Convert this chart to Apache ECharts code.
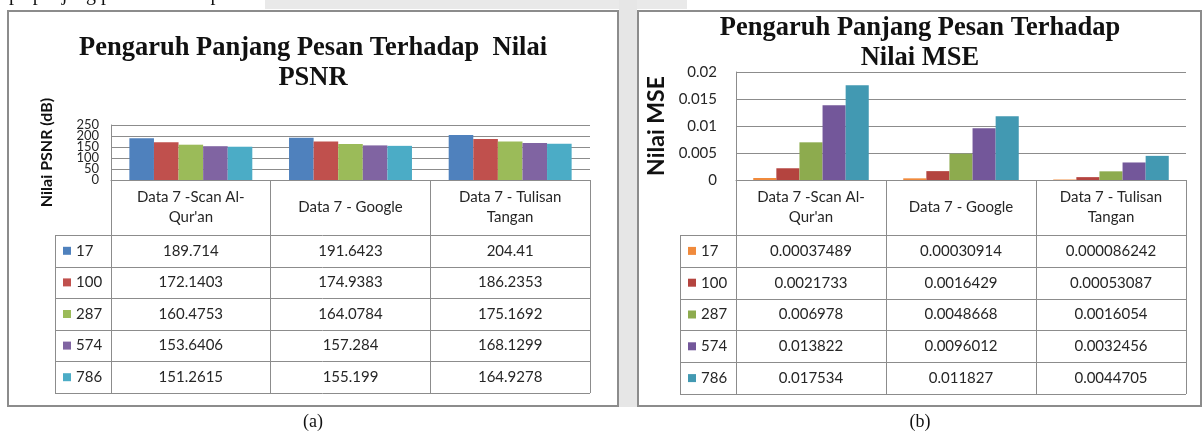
<!DOCTYPE html>
<html>
<head>
<meta charset="utf-8">
<script src="https://cdn.jsdelivr.net/npm/echarts@6/dist/echarts.min.js"></script>
<style>
  html, body { margin: 0; padding: 0; background: #fff; }
  #chart { width: 1203px; height: 437px; }
</style>
</head>
<body>
<div id="chart"></div>
<script>
// categories (table header / x axis)
const categories = ["Data 7 -Scan Al-\nQur'an", 'Data 7 - Google', 'Data 7 - Tulisan\nTangan']
// message lengths (series names)
const seriesNames = ['17', '100', '287', '574', '786']

// PSNR (dB)
const psnr17 = [189.714, 191.6423, 204.41]
const psnr100 = [172.1403, 174.9383, 186.2353]
const psnr287 = [160.4753, 164.0784, 175.1692]
const psnr574 = [153.6406, 157.284, 168.1299]
const psnr786 = [151.2615, 155.199, 164.9278]

// MSE
const mse17 = [0.00037489, 0.00030914, 0.000086242]
const mse100 = [0.0021733, 0.0016429, 0.00053087]
const mse287 = [0.006978, 0.0048668, 0.0016054]
const mse574 = [0.013822, 0.0096012, 0.0032456]
const mse786 = [0.017534, 0.011827, 0.0044705]

// y axis ticks
const psnrTicks = [0, 50, 100, 150, 200, 250]
const mseTicks = [0, 0.005, 0.01, 0.015, 0.02]

const psnrData = [psnr17, psnr100, psnr287, psnr574, psnr786]
const mseData = [mse17, mse100, mse287, mse574, mse786]

const psnrColors = ['#4f81bd', '#c0504d', '#9bbb59', '#8064a2', '#4bacc6']
const mseColors = ['#f08a3c', '#b4443f', '#8dab4e', '#73579a', '#4299b2']

const lineColor = '#8c8c8c'
const textColor = '#262626'
const sansFont = 'Lato'
const serifFont = 'Liberation Serif'

// layout of the two panels
const left = { plotL: 111, plotR: 590, top: 125, axisY: 180, labelL: 55, rowTop: 235, rowH: 31.6 }
const right = { plotL: 736, plotR: 1186, top: 72, axisY: 180, labelL: 680, rowTop: 235, rowH: 31.8 }

function tableGraphics(p, data, colors) {
  const out = []
  const bottom = p.rowTop + p.rowH * seriesNames.length
  const colW = (p.plotR - p.plotL) / categories.length
  for (let i = 0; i <= seriesNames.length; i++) {
    const y = Math.round(p.rowTop + i * p.rowH) + 0.5
    out.push({ type: 'line', shape: { x1: p.labelL, y1: y, x2: p.plotR, y2: y }, style: { stroke: lineColor, lineWidth: 1 } })
  }
  out.push({ type: 'line', shape: { x1: p.labelL + 0.5, y1: p.rowTop, x2: p.labelL + 0.5, y2: bottom }, style: { stroke: lineColor, lineWidth: 1 } })
  seriesNames.forEach((name, i) => {
    const cy = p.rowTop + (i + 0.5) * p.rowH
    out.push({ type: 'rect', shape: { x: p.labelL + 8, y: cy - 4, width: 8, height: 8 }, style: { fill: colors[i] } })
    out.push({
      type: 'text', x: p.labelL + 21, y: cy,
      style: { text: name, fontFamily: sansFont, fontSize: 15, fill: textColor, align: 'left', verticalAlign: 'middle' }
    })
    data[i].forEach((v, j) => {
      out.push({
        type: 'text', x: p.plotL + (j + 0.5) * colW, y: cy,
        style: { text: String(v), fontFamily: sansFont, fontSize: 15, fill: textColor, align: 'center', verticalAlign: 'middle' }
      })
    })
  })
  return out
}

function xAxisFor(gridIndex, p) {
  const bottom = p.rowTop + p.rowH * seriesNames.length
  return {
    gridIndex,
    type: 'category',
    data: categories,
    axisLine: { lineStyle: { color: lineColor, width: 1 } },
    axisTick: { show: true, interval: 0, length: Math.round(bottom - p.axisY), lineStyle: { color: lineColor } },
    axisLabel: {
      interval: 0, margin: 27, verticalAlign: 'middle', lineHeight: 20,
      fontFamily: sansFont, fontSize: 15, color: textColor
    }
  }
}

function barSeries(data, colors, axisIndex) {
  return data.map((vals, i) => ({
    name: seriesNames[i],
    type: 'bar',
    xAxisIndex: axisIndex,
    yAxisIndex: axisIndex,
    barGap: '0%',
    barCategoryGap: '23%',
    itemStyle: { color: colors[i] },
    data: vals
  }))
}

const chart = echarts.init(document.getElementById('chart'))

const graphics = [
  // background pieces of the scanned page
  { type: 'rect', shape: { x: 265, y: 0, width: 422, height: 9 }, style: { fill: '#e9e9e9' }, z: -10 },
  { type: 'rect', shape: { x: 619, y: 0, width: 18, height: 407 }, style: { fill: '#e6e6e6' }, z: -10 },
  {
    type: 'text', x: 0, y: -15, z: -5,
    style: { text: 'epa panjang pesan terhadap nilai MSE dan PSNR.', fontFamily: serifFont, fontSize: 20, fill: '#111' }
  },
  // panel frames
  { type: 'rect', shape: { x: 8, y: 11, width: 610, height: 395 }, style: { fill: '#fff', stroke: lineColor, lineWidth: 2 }, z: -8 },
  { type: 'rect', shape: { x: 638, y: 11, width: 563, height: 395 }, style: { fill: '#fff', stroke: lineColor, lineWidth: 2 }, z: -8 },
  // captions
  { type: 'text', x: 313, y: 422, style: { text: '(a)', fontFamily: serifFont, fontSize: 18, fill: '#111', align: 'center', verticalAlign: 'middle' } },
  { type: 'text', x: 920, y: 422, style: { text: '(b)', fontFamily: serifFont, fontSize: 18, fill: '#111', align: 'center', verticalAlign: 'middle' } }
].concat(tableGraphics(left, psnrData, psnrColors), tableGraphics(right, mseData, mseColors))

const titleStyle = { fontFamily: serifFont, fontWeight: 'bold', fontSize: 26.5, lineHeight: 30, color: '#111' }

chart.setOption({
  animation: false,
  backgroundColor: '#fff',
  title: [
    { text: 'Pengaruh Panjang Pesan Terhadap  Nilai\nPSNR', left: 313, top: 33, padding: 0, textAlign: 'center', textStyle: titleStyle },
    { text: 'Pengaruh Panjang Pesan Terhadap\nNilai MSE', left: 920, top: 13, padding: 0, textAlign: 'center', textStyle: titleStyle }
  ],
  grid: [
    { left: left.plotL, top: left.top, width: left.plotR - left.plotL, height: left.axisY - left.top },
    { left: right.plotL, top: right.top, width: right.plotR - right.plotL, height: right.axisY - right.top }
  ],
  xAxis: [xAxisFor(0, left), xAxisFor(1, right)],
  yAxis: [
    {
      gridIndex: 0, type: 'value',
      min: psnrTicks[0], max: psnrTicks[psnrTicks.length - 1], interval: psnrTicks[1] - psnrTicks[0],
      name: 'Nilai PSNR (dB)', nameLocation: 'middle', nameGap: 56, nameRotate: 90,
      nameTextStyle: { fontFamily: sansFont, fontWeight: 'bold', fontSize: 16, color: '#111' },
      axisLine: { show: true, lineStyle: { color: lineColor } },
      axisTick: { show: false },
      splitLine: { lineStyle: { color: lineColor } },
      // the tick labels overlap in the original, so they are placed below from the axis scale
      axisLabel: { show: false }
    },
    {
      gridIndex: 1, type: 'value',
      min: mseTicks[0], max: mseTicks[mseTicks.length - 1], interval: mseTicks[1] - mseTicks[0],
      name: 'Nilai MSE', nameLocation: 'middle', nameGap: 68, nameRotate: 90,
      nameTextStyle: { fontFamily: sansFont, fontWeight: 'bold', fontSize: 23, color: '#111' },
      axisLine: { show: true, lineStyle: { color: lineColor } },
      axisTick: { show: false },
      splitLine: { lineStyle: { color: lineColor } },
      axisLabel: { margin: 19, fontFamily: sansFont, fontSize: 15, color: textColor, showMinLabel: true, showMaxLabel: true }
    }
  ],
  series: barSeries(psnrData, psnrColors, 0).concat(barSeries(mseData, mseColors, 1)),
  graphic: graphics
})

// overlapping PSNR tick labels, positioned through the y axis scale
const psnrLabels = psnrTicks.map(t => ({
  type: 'text',
  x: left.plotL - 12,
  y: chart.convertToPixel({ yAxisIndex: 0 }, t),
  style: { text: String(t), fontFamily: sansFont, fontSize: 13, fill: textColor, align: 'right', verticalAlign: 'middle' }
}))
chart.setOption({ graphic: graphics.concat(psnrLabels) })
</script>
</body>
</html>
